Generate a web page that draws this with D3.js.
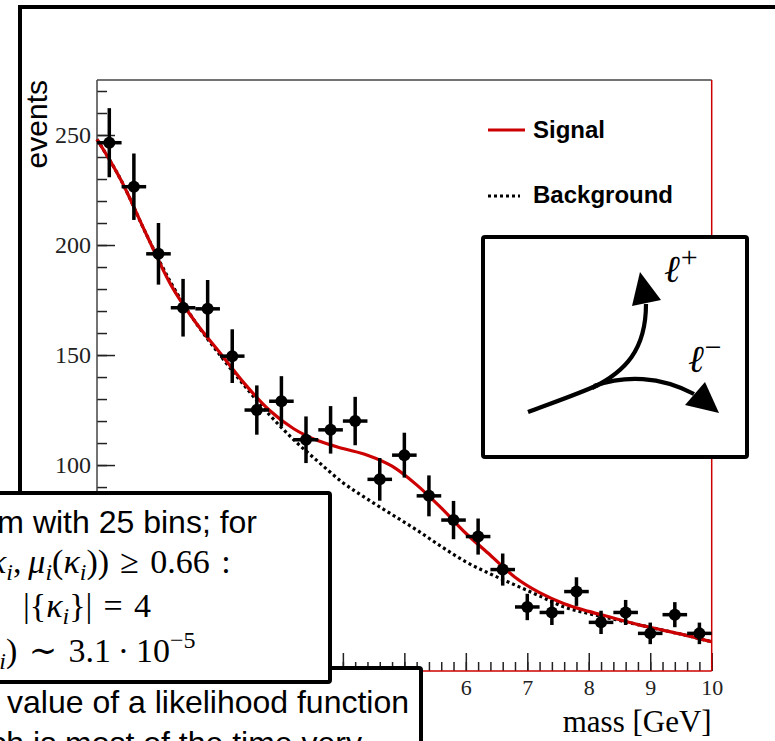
<!DOCTYPE html>
<html>
<head>
<meta charset="utf-8">
<script src="https://cdn.jsdelivr.net/npm/d3@7"></script>
<style>
  body { margin: 0; background: #fff; }
  svg { display: block; }
</style>
</head>
<body>
<svg id="chart" width="775" height="741"></svg>
<script>
// histogram: 25 bins on [0,10] GeV
const binCenters = [0.2, 0.6, 1.0, 1.4, 1.8, 2.2, 2.6, 3.0, 3.4, 3.8, 4.2, 4.6, 5.0,
                    5.4, 5.8, 6.2, 6.6, 7.0, 7.4, 7.8, 8.2, 8.6, 9.0, 9.4, 9.8];
const binHalfWidth = 0.2;
const counts = [246.5, 226.5, 196, 171.5, 171, 149.5, 125, 129, 111.5, 116, 120, 93.5, 104.5,
                86, 75, 67.5, 52.5, 35.5, 33, 42.5, 28.5, 33, 23.5, 32, 23.5];
const countErrors = [15.7, 15.1, 14.0, 13.1, 13.1, 12.2, 11.2, 11.4, 10.6, 10.8, 11.0, 9.7, 10.2,
                     9.3, 8.7, 8.2, 7.3, 6.0, 5.7, 6.5, 5.3, 5.7, 4.9, 5.7, 4.9];

const curveX = [0, 0.4, 0.8, 1.2, 1.6, 2.0, 2.4, 2.8, 3.2, 3.6, 4.0, 4.4, 4.8,
                5.2, 5.6, 6.0, 6.4, 6.8, 7.2, 7.6, 8.0, 8.4, 8.8, 9.2, 9.6, 10.0];
const signalValues = [248, 229, 205, 182, 165, 151, 137, 125, 116.5, 111, 107.5, 104.5, 99.5,
                      91, 80.5, 69, 59, 49, 42, 37, 33.5, 30.5, 27.5, 25, 22.5, 19.7];
const backgroundValues = [248, 229, 205, 183, 165, 150, 136, 123, 111.5, 101.5, 92, 84.5, 77.5,
                          70.5, 63, 56, 50.5, 45.5, 40.5, 35.5, 32.5, 30, 27.5, 25, 22.5, 19.7];

const xMajorTicks = [0, 1, 2, 3, 4, 5, 6, 7, 8, 9, 10];
const yMajorTicks = [50, 100, 150, 200, 250];
const xDomain = [0, 10];
const yDomain = [6.4, 275];

const legendLabels = ["Signal", "Background"];

const svg = d3.select("#chart");
const red = "#cc0000";

// plot frame in pixels
const frame = {left: 97, right: 711.7, top: 80, bottom: 671};

const x = d3.scaleLinear().domain(xDomain).range([frame.left, frame.right]);
const y = d3.scaleLinear().domain(yDomain).range([frame.bottom, frame.top]);

// outer slide frame
svg.append("rect")
  .attr("x", 20).attr("y", 7)
  .attr("width", 900).attr("height", 900)
  .attr("fill", "none").attr("stroke", "#000").attr("stroke-width", 4);

const g = svg.append("g");

// Y axis: major + minor ticks pointing inward
const yMinor = d3.range(10, 275, 10);
g.append("g")
  .attr("transform", "translate(" + frame.left + ",0)")
  .call(d3.axisLeft(y).tickValues(yMinor).tickSizeInner(-10).tickSizeOuter(0).tickFormat(""))
  .call(a => a.select(".domain").remove())
  .selectAll("line").attr("stroke", "#222").attr("stroke-width", 1.5);

const yAx = g.append("g")
  .attr("transform", "translate(" + frame.left + ",0)")
  .call(d3.axisLeft(y).tickValues(yMajorTicks).tickSizeInner(-18).tickSizeOuter(0).tickPadding(6));
yAx.select(".domain").remove();
yAx.selectAll("line").attr("stroke", "#222").attr("stroke-width", 1.5);
yAx.selectAll("text")
  .style("font-family", "'Liberation Serif', serif")
  .style("font-size", "24px")
  .attr("fill", "#222");

// X axis (labels left of 6 sit under the text boxes)
const xMinor = d3.range(0, 10.01, 0.2);
g.append("g")
  .attr("transform", "translate(0," + frame.bottom + ")")
  .call(d3.axisBottom(x).tickValues(xMinor).tickSizeInner(-9).tickSizeOuter(0).tickFormat(""))
  .call(a => a.select(".domain").remove())
  .selectAll("line").attr("stroke", "#222").attr("stroke-width", 1.5);

const xAx = g.append("g")
  .attr("transform", "translate(0," + frame.bottom + ")")
  .call(d3.axisBottom(x).tickValues(xMajorTicks).tickSizeInner(-18).tickSizeOuter(0).tickPadding(8)
    .tickFormat(d => d >= 6 ? d3.format("d")(d) : ""));
xAx.select(".domain").remove();
xAx.selectAll("line").attr("stroke", "#222").attr("stroke-width", 1.5);
xAx.selectAll("text")
  .style("font-family", "'Liberation Serif', serif")
  .style("font-size", "22px")
  .attr("fill", "#222");

// frame lines: top/left dark, right/bottom red
g.append("line").attr("x1", frame.left).attr("x2", frame.right).attr("y1", frame.top).attr("y2", frame.top)
  .attr("stroke", "#444").attr("stroke-width", 1.5);
g.append("line").attr("x1", frame.left).attr("x2", frame.left).attr("y1", frame.top).attr("y2", frame.bottom)
  .attr("stroke", "#444").attr("stroke-width", 1.5);
g.append("line").attr("x1", frame.right).attr("x2", frame.right).attr("y1", frame.top).attr("y2", frame.bottom)
  .attr("stroke", red).attr("stroke-width", 1.5);
g.append("line").attr("x1", frame.left).attr("x2", frame.right).attr("y1", frame.bottom).attr("y2", frame.bottom)
  .attr("stroke", red).attr("stroke-width", 1.5);

// axis titles
g.append("text")
  .attr("transform", "translate(47," + frame.top + ") rotate(-90)")
  .attr("text-anchor", "end")
  .style("font-family", "'Liberation Sans', Arial, sans-serif")
  .style("font-size", "30px")
  .text("events");

g.append("text")
  .attr("x", frame.right).attr("y", 732)
  .attr("text-anchor", "end")
  .style("font-family", "'Liberation Serif', serif")
  .style("font-size", "31px")
  .text("mass [GeV]");

// curves
const fitLine = d3.line().x((d, i) => x(curveX[i])).y(d => y(d)).curve(d3.curveMonotoneX);
g.append("path")
  .datum(backgroundValues)
  .attr("fill", "none").attr("stroke", "#000").attr("stroke-width", 3.2)
  .attr("stroke-dasharray", "3,3")
  .attr("d", fitLine);

g.append("path")
  .datum(signalValues)
  .attr("fill", "none").attr("stroke", red).attr("stroke-width", 3.2)
  .attr("d", fitLine);

// data points with error bars
const pts = g.append("g").selectAll("g").data(counts).join("g");
pts.append("line")
  .attr("x1", (d, i) => x(binCenters[i])).attr("x2", (d, i) => x(binCenters[i]))
  .attr("y1", (d, i) => y(d - countErrors[i])).attr("y2", (d, i) => y(d + countErrors[i]))
  .attr("stroke", "#000").attr("stroke-width", 3.5);
pts.append("line")
  .attr("x1", (d, i) => x(binCenters[i] - binHalfWidth)).attr("x2", (d, i) => x(binCenters[i] + binHalfWidth))
  .attr("y1", d => y(d)).attr("y2", d => y(d))
  .attr("stroke", "#000").attr("stroke-width", 3.5);
pts.append("circle")
  .attr("cx", (d, i) => x(binCenters[i])).attr("cy", d => y(d))
  .attr("r", 6).attr("fill", "#000");

// legend
const legend = g.append("g");
legend.append("line").attr("x1", 488).attr("x2", 525).attr("y1", 130).attr("y2", 130)
  .attr("stroke", red).attr("stroke-width", 3.2);
legend.append("line").attr("x1", 488).attr("x2", 520).attr("y1", 196).attr("y2", 196)
  .attr("stroke", "#000").attr("stroke-width", 3.2).attr("stroke-dasharray", "3,3");
legend.selectAll("text").data(legendLabels).join("text")
  .attr("x", 533).attr("y", (d, i) => i === 0 ? 138 : 202.5)
  .style("font-family", "'Liberation Sans', Arial, sans-serif")
  .style("font-size", "24px").style("font-weight", "bold")
  .text(d => d);

// inset: dilepton sketch
const inset = svg.append("g");
inset.append("rect")
  .attr("x", 483).attr("y", 237).attr("width", 264).attr("height", 220).attr("rx", 2)
  .attr("fill", "#fff").attr("stroke", "#000").attr("stroke-width", 4);
inset.append("path")
  .attr("d", "M528,412 C552,403 578,394 598,385")
  .attr("fill", "none").attr("stroke", "#000").attr("stroke-width", 4.2);
inset.append("path")
  .attr("d", "M592,388 C625,372 646,350 646,304")
  .attr("fill", "none").attr("stroke", "#000").attr("stroke-width", 4.2);
inset.append("path")
  .attr("d", "M594,386 C625,375 660,376 694,394")
  .attr("fill", "none").attr("stroke", "#000").attr("stroke-width", 4.2);
inset.append("path").attr("d", "M640,272 L632,306 L661,300 Z").attr("fill", "#000");
inset.append("path").attr("d", "M719,413 L685,405 L705,382 Z").attr("fill", "#000");
const lep = inset.append("g")
  .style("font-family", "'Liberation Serif', 'DejaVu Serif', serif");
const lp = lep.append("text").attr("x", 664).attr("y", 282).style("font-size", "38px");
lp.append("tspan").style("font-style", "italic").text("ℓ");
lp.append("tspan").attr("dx", 1).attr("dy", -15).style("font-size", "30px").text("+");
const lm = lep.append("text").attr("x", 688).attr("y", 372).style("font-size", "38px");
lm.append("tspan").style("font-style", "italic").text("ℓ");
lm.append("tspan").attr("dx", 1).attr("dy", -15).style("font-size", "30px").text("−");

// lower text box
const box2 = svg.append("g");
box2.append("rect")
  .attr("x", -10).attr("y", 668).attr("width", 431).attr("height", 120).attr("rx", 2)
  .attr("fill", "#fff").attr("stroke", "#000").attr("stroke-width", 4);
box2.append("text").attr("x", 7).attr("y", 713)
  .style("font-family", "'Liberation Sans', Arial, sans-serif").style("font-size", "32px")
  .text("value of a likelihood function");
box2.append("text").attr("x", 362).attr("y", 754).attr("text-anchor", "end")
  .style("font-family", "'Liberation Sans', Arial, sans-serif").style("font-size", "32px")
  .text("which is most of the time very");

// upper text box
const box1 = svg.append("g");
box1.append("rect")
  .attr("x", -10).attr("y", 493).attr("width", 340).attr("height", 189).attr("rx", 2)
  .attr("fill", "#fff").attr("stroke", "#000").attr("stroke-width", 4);
box1.append("text").attr("x", 257).attr("y", 533).attr("text-anchor", "end")
  .style("font-family", "'Liberation Sans', Arial, sans-serif").style("font-size", "32px")
  .text("histogram with 25 bins; for");

function mathLine(parent, px, py, segs) {
  const t = parent.append("text").attr("x", px).attr("y", py)
    .style("font-family", "'Liberation Serif', 'DejaVu Serif', serif").style("font-size", "34px");
  let shift = 0;
  segs.forEach(s => {
    const target = s.sub ? 7 : s.sup ? -14 : 0;
    const sp = t.append("tspan").attr("dy", target - shift).text(s.t);
    shift = target;
    if (s.it) sp.style("font-style", "italic");
    if (s.sub || s.sup) sp.style("font-size", "24px");
  });
}
mathLine(box1, -10, 573, [
  {t: "κ", it: true}, {t: "i", it: true, sub: true}, {t: ",\u2009"},
  {t: "μ", it: true}, {t: "i", it: true, sub: true}, {t: "("}, {t: "κ", it: true},
  {t: "i", it: true, sub: true}, {t: "))\u2004≥\u20040.66\u2004:"}
]);
mathLine(box1, 23, 617, [
  {t: "|{"}, {t: "κ", it: true}, {t: "i", it: true, sub: true}, {t: "}|\u2004=\u20044"}
]);
mathLine(box1, -17, 662, [
  {t: "κ", it: true}, {t: "i", it: true, sub: true}, {t: ")\u2004∼\u20043.1\u2009·\u200910"}, {t: "−5", sup: true}
]);
</script>
</body>
</html>
